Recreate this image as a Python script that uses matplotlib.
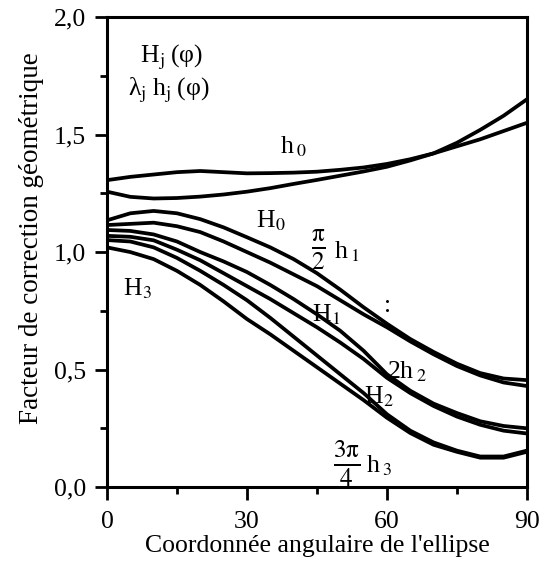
import matplotlib
matplotlib.use("Agg")
import matplotlib.pyplot as plt
from matplotlib.ticker import MultipleLocator, FuncFormatter

plt.rcParams['font.family'] = ['Liberation Serif', 'DejaVu Serif']
plt.rcParams['mathtext.fontset'] = 'stix'

phi = [0, 5, 10, 15, 20, 25, 30, 35, 40, 45, 50, 55, 60, 65, 70, 75, 80, 85, 90]

h0 = [1.306, 1.32, 1.33, 1.34, 1.345, 1.34, 1.335, 1.336, 1.338, 1.342, 1.35, 1.36, 1.375, 1.395, 1.42, 1.45, 1.48, 1.515, 1.55]
H0 = [1.257, 1.235, 1.228, 1.23, 1.236, 1.245, 1.257, 1.272, 1.29, 1.307, 1.325, 1.343, 1.363, 1.39, 1.42, 1.465, 1.52, 1.58, 1.65]
h1 = [1.135, 1.165, 1.175, 1.165, 1.14, 1.105, 1.063, 1.02, 0.97, 0.91, 0.84, 0.765, 0.695, 0.63, 0.575, 0.525, 0.485, 0.462, 0.455]
H1 = [1.115, 1.12, 1.125, 1.11, 1.085, 1.045, 1.0, 0.955, 0.905, 0.855, 0.795, 0.735, 0.68, 0.62, 0.565, 0.515, 0.475, 0.445, 0.43]
h2 = [1.094, 1.09, 1.075, 1.045, 1.0, 0.96, 0.915, 0.86, 0.8, 0.735, 0.665, 0.58, 0.48, 0.41, 0.355, 0.315, 0.28, 0.26, 0.25]
H2 = [1.069, 1.065, 1.05, 1.01, 0.965, 0.91, 0.855, 0.8, 0.74, 0.68, 0.615, 0.545, 0.465, 0.4, 0.345, 0.3, 0.265, 0.24, 0.228]
h3 = [1.051, 1.045, 1.02, 0.975, 0.92, 0.86, 0.795, 0.72, 0.64, 0.56, 0.48, 0.4, 0.31, 0.24, 0.19, 0.155, 0.13, 0.13, 0.155]
H3 = [1.02, 1.0, 0.97, 0.92, 0.86, 0.79, 0.715, 0.65, 0.58, 0.51, 0.44, 0.37, 0.295, 0.23, 0.18, 0.15, 0.125, 0.125, 0.15]

x_ticks = [0, 30, 60, 90]
y_ticks = [0.0, 0.5, 1.0, 1.5, 2.0]

fig = plt.figure(figsize=(5.5, 5.69), dpi=100)
ax = fig.add_axes([0.1945, 0.144, 0.7635, 0.826])

for s in [h0, H0, h1, H1, h2, H2, h3, H3]:
    ax.plot(phi, s, color='black', lw=2.7, solid_capstyle='butt')

ax.set_xlim(0, 90)
ax.set_ylim(0, 2.0)
ax.set_xticks(x_ticks)
ax.set_yticks(y_ticks)
ax.xaxis.set_minor_locator(MultipleLocator(15))
ax.yaxis.set_minor_locator(MultipleLocator(0.25))
ax.yaxis.set_major_formatter(FuncFormatter(lambda v, p: f"{v:.1f}".replace('.', ',')))
ax.tick_params(which='major', direction='out', length=9, width=2, labelsize=18.5)
ax.tick_params(axis='x', which='major', pad=8)
ax.tick_params(axis='y', which='major', pad=6)
ax.tick_params(which='minor', direction='out', length=5, width=2)
for sp in ax.spines.values():
    sp.set_linewidth(2.2)

ax.set_xlabel("Coordonnée angulaire de l'ellipse", fontsize=18.5, labelpad=2)
ax.set_ylabel("Facteur de correction géométrique", fontsize=19.5)
ax.yaxis.set_label_coords(-0.15, 0.53)

fs = 18.5
ax.text(7.0, 1.83, "H$_\\mathrm{j}$\u2009(φ)", fontsize=fs, va='center', ha='left')
ax.text(4.5, 1.69, "λ$_\\mathrm{j}$\u2009h$_\\mathrm{j}$\u2009(φ)", fontsize=fs, va='center', ha='left')
ax.text(37, 1.45, r"h$\,_0$", fontsize=fs, va='center', ha='left')
ax.text(32, 1.135, r"H$_0$", fontsize=fs, va='center', ha='left')
ax.text(43.8, 1.01, r"$\frac{\mathrm{\pi}}{2}$", fontsize=26, va='center', ha='left')
ax.text(48.6, 1.0, r"h$\,_1$", fontsize=fs, va='center', ha='left')
ax.text(59.3, 0.77, ":", fontsize=fs, va='center', ha='left')
ax.text(44, 0.735, r"H$_1$", fontsize=fs, va='center', ha='left')
ax.text(60, 0.49, r"2h$\,_2$", fontsize=fs, va='center', ha='left')
ax.text(55, 0.385, r"H$_2$", fontsize=fs, va='center', ha='left')
ax.text(48.5, 0.10, r"$\frac{3\mathrm{\pi}}{4}$", fontsize=26, va='center', ha='left')
ax.text(55.6, 0.09, r"h$\,_3$", fontsize=fs, va='center', ha='left')
ax.text(3.4, 0.845, r"H$_3$", fontsize=fs, va='center', ha='left')

fig.savefig("out.png", dpi=100)
